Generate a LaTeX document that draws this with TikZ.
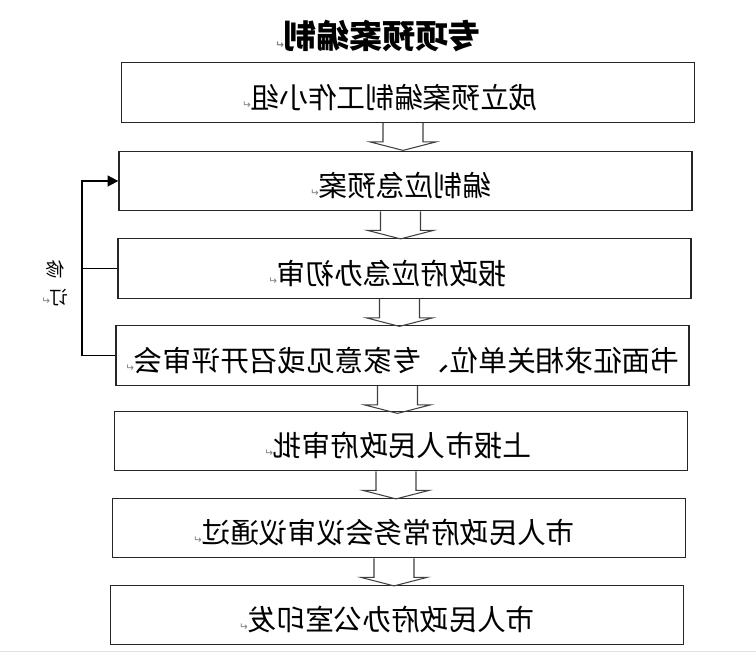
\documentclass[tikz,border=0pt]{standalone}
\usepackage{fontspec}
\usetikzlibrary{calc,arrows.meta}
\newfontfamily\cjk{Noto Sans CJK SC}
\newfontfamily\markfont{DejaVu Sans}
% paragraph mark as printed after each line
\newcommand\pmark{{\color{gray}\markfont\fontsize{9}{9}\selectfont ↵}}

\tikzset{
  box/.style={draw=black!85,line width=1.1pt,minimum width=17.19cm,minimum height=1.785cm,
    inner sep=0pt,text height=26.5pt,text depth=0pt},
  blockarrow/.style={draw=black!75,line width=0.9pt,line join=miter},
  feedback/.style={draw=black,line width=1.6pt},
  ->/.style={-{Triangle[length=3.2mm,width=3.2mm]}}
}
\tikzstyle{every node}=[font=\cjk\fontsize{24.5}{28}\selectfont]

\begin{document}
\begin{tikzpicture}[x=0.03cm,y=-0.03cm,xscale=-1,transform shape]
    \useasboundingbox (0,0) rectangle (756,654);
    \node (title) at (378,36) {\bfseries\fontsize{28}{30}\selectfont 专项预案编制\pmark};
    \node[box] (b1) at (348,92.5)  {\hspace*{1.08cm}成立预案编制工作小组\pmark};
    \node[box] (b2) at (350.5,181) {\hspace*{0.3cm}编制应急预案\pmark};
    \node[box] (b3) at (351.5,268.5) {\hspace*{1.02cm}报政府应急办初审\pmark};
    \node[box] (b4) at (353.5,355.5) {书面征求相关单位、专家意见或召开评审会\pmark};
    \node[box] (b5) at (355,441)   {\hspace*{0.18cm}上报市人民政府审批\pmark};
    \node[box] (b6) at (357,528)   {\hspace*{0.9cm}市人民政府常务会议审议通过\pmark};
    \node[box] (b7) at (359,615)   {\hspace*{0.6cm}市人民政府办公室印发\pmark};
    % block arrows between the steps
    \foreach \a/\b in {b1/b2,b2/b3,b3/b4,b4/b5,b5/b6,b6/b7}
      \draw[blockarrow] ($(\a.south)+(-15,0)$) -- ++(0,19) -- ++(-13,0)
        -- ++(33,8.5) -- ++(33,-8.5) -- ++(-13,0) -- ++(0,-19);
    % revision loop
    \coordinate (fb) at (674,0);
    \draw[feedback,->] (b4.east) -- (b4.east -| fb) |- (b2.east);
    \draw[feedback] (b3.east) -- (b3.east -| fb);
    \node[align=center,font=\cjk\fontsize{16}{24}\selectfont] (rev) at (701,283) {修\\订\pmark};
    \draw[black!12] (0,651) -- (756,651);
\end{tikzpicture}
\end{document}
